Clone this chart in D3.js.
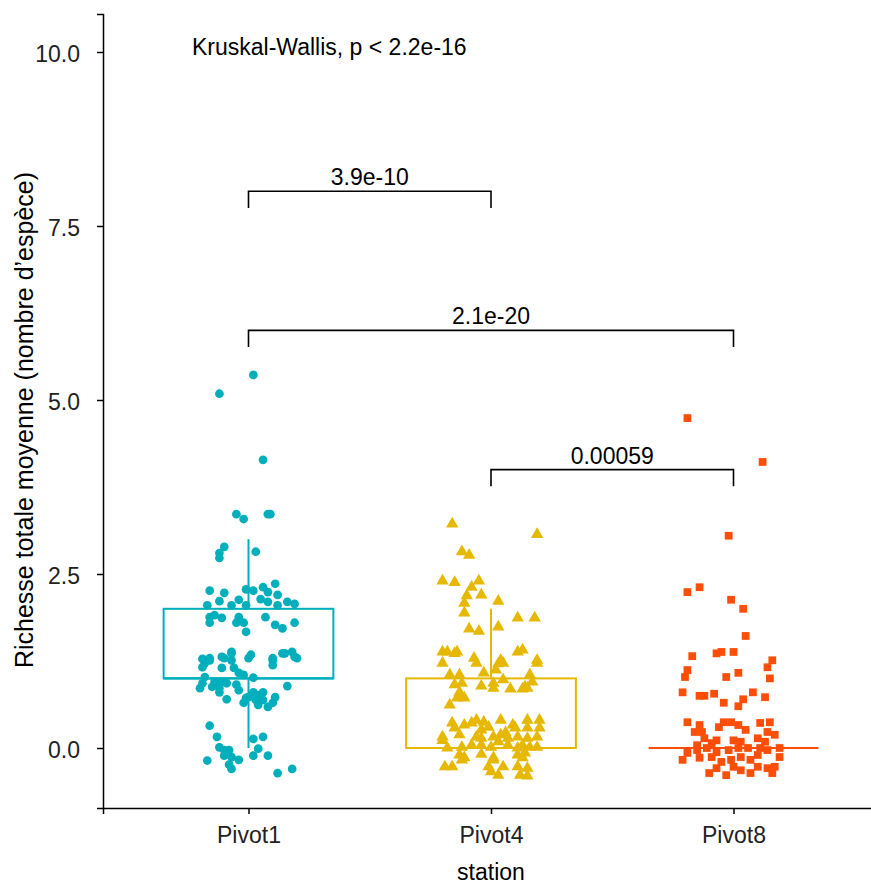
<!DOCTYPE html>
<html><head><meta charset="utf-8">
<script src="https://cdn.jsdelivr.net/npm/d3@7"></script>
<style>body{margin:0;background:#fff}svg{display:block}text{font-family:"Liberation Sans",Arial,sans-serif}</style>
</head><body>
<svg id="c" width="871" height="884"></svg>
<script>
const categories = ["Pivot1","Pivot4","Pivot8"];
const colors = ["#00AFBB","#E7B800","#FC4E07"];
const yTicks = [0,2.5,5,7.5,10];
// box stats: [lowerWhisker, q1, median, q3, upperWhisker]
const boxStats = [[0,1,1,2,3],[0,0,0,1,2],[0,0,0,0,0]];
// jittered points: [x jitter (category units), value]
const pivot1 = [[0.02,5.36],[-0.12,5.09],[0.06,4.14],[-0.05,3.36],[-0.02,3.29],[0.08,3.36],[0.09,3.36],
[-0.10,2.89],[-0.12,2.80],[-0.12,2.73],[0.03,2.82],[-0.16,2.26],[-0.10,2.23],[-0.12,2.11],[-0.17,2.05],
[-0.01,2.28],[0.02,2.26],[-0.04,2.13],[-0.07,2.05],[-0.01,2.05],[0.06,2.31],[0.08,2.24],[0.11,2.36],
[0.12,2.20],[0.05,2.14],[0.08,2.10],[0.12,2.05],[0.16,2.10],[0.19,2.07],[-0.16,1.88],[-0.16,1.80],
[-0.14,1.91],[-0.11,1.87],[-0.04,1.88],[-0.05,1.80],[-0.02,1.80],[-0.01,1.67],[0.07,1.88],[0.11,1.77],
[0.14,1.72],[0.19,1.80],[-0.07,1.38],[0.01,1.34],[-0.11,1.31],[-0.16,1.29],[-0.19,1.28],[0.10,1.29],
[0.14,1.36],[0.18,1.38],[0.19,1.31],[-0.18,1.22],[-0.16,1.26],[-0.19,1.16],[-0.10,1.29],[-0.07,1.26],
[-0.06,1.15],[-0.11,1.15],[0.00,1.29],[-0.07,1.36],[0.10,1.26],[0.10,1.19],[0.15,1.36],[0.20,1.29],
[-0.04,1.08],[-0.02,1.05],[-0.18,1.02],[-0.19,0.93],[-0.20,0.86],[-0.14,0.95],[-0.15,0.88],[-0.12,0.86],
[-0.11,0.95],[-0.12,0.80],[-0.09,0.93],[-0.05,0.91],[-0.04,0.83],[0.02,1.01],[0.16,0.89],[-0.09,0.70],
[-0.02,0.65],[-0.01,0.72],[0.00,0.73],[0.02,0.80],[0.04,0.76],[0.06,0.80],[0.03,0.69],[0.04,0.62],
[0.06,0.69],[0.08,0.59],[0.10,0.65],[0.11,0.73],[-0.16,0.32],[-0.13,0.16],[-0.12,0.01],[-0.10,-0.03],
[-0.08,-0.03],[-0.10,-0.11],[-0.07,-0.13],[-0.08,-0.24],[-0.07,-0.30],[-0.04,-0.17],[-0.17,-0.18],
[0.02,0.13],[0.06,0.16],[0.04,-0.01],[0.02,-0.11],[0.08,-0.11],[0.12,-0.36],[0.18,-0.30]];
const pivot4 = [[-0.16,3.22],[0.19,3.07],[-0.12,2.82],[-0.09,2.77],[-0.20,2.40],[-0.15,2.38],[-0.05,2.40],
[-0.08,2.31],[-0.10,2.19],[-0.04,2.20],[0.03,2.11],[-0.11,2.08],[-0.11,1.94],[0.11,1.87],[0.18,1.87],
[0.03,1.74],[-0.09,1.71],[-0.05,1.68],[-0.20,1.38],[-0.18,1.38],[-0.15,1.36],[-0.14,1.38],[0.11,1.38],
[0.13,1.41],[-0.07,1.29],[0.04,1.26],[0.19,1.26],[-0.20,1.22],[-0.06,1.22],[-0.03,1.08],[0.03,1.21],
[0.02,1.12],[0.05,1.22],[0.19,1.22],[-0.17,1.05],[-0.13,1.05],[-0.15,0.91],[-0.12,0.93],[-0.13,0.80],
[-0.12,0.73],[-0.11,0.72],[-0.14,0.72],[-0.17,0.62],[-0.04,0.89],[0.01,0.86],[0.01,0.93],[0.05,0.98],
[0.08,0.85],[0.13,0.85],[0.14,0.88],[0.16,1.05],[0.17,0.95],[0.15,0.86],
[-0.16,0.36],[-0.15,0.29],[-0.11,0.33],[-0.08,0.36],[-0.06,0.40],[-0.03,0.37],[-0.01,0.30],[-0.04,0.26],
[0.04,0.40],[0.09,0.33],[0.10,0.29],[0.15,0.40],[0.20,0.40],[0.15,0.29],[0.20,0.29],[-0.20,0.16],
[-0.20,0.11],[-0.13,0.19],[-0.06,0.16],[-0.04,0.14],[0.01,0.16],[0.04,0.19],[0.06,0.22],[0.07,0.14],
[0.11,0.16],[0.15,0.14],[0.19,0.16],[-0.18,0.00],[-0.12,0.01],[-0.08,0.04],[-0.04,0.04],[0.00,0.01],
[0.03,0.09],[0.07,0.04],[0.11,0.00],[0.13,0.04],[0.16,0.01],[0.19,0.01],[-0.13,-0.10],[-0.11,-0.14],
[-0.04,-0.09],[0.01,-0.14],[0.11,-0.10],[0.13,-0.14],[0.14,-0.07],[-0.19,-0.27],[-0.16,-0.27],
[-0.12,-0.17],[-0.01,-0.27],[0.01,-0.17],[0.05,-0.27],[0.11,-0.27],[0.15,-0.29],[0.00,-0.34],
[0.03,-0.39],[0.12,-0.39],[0.15,-0.40]];
const pivot8 = [[-0.19,4.74],[0.12,4.11],[-0.02,3.05],[-0.19,2.24],[-0.14,2.31],[-0.01,2.13],[0.04,2.00],
[0.05,1.61],[-0.17,1.32],[-0.07,1.36],[-0.05,1.38],[0.00,1.38],[0.16,1.26],[0.14,1.16],[-0.19,1.12],
[0.15,1.00],[-0.20,1.02],[-0.03,1.02],[0.02,1.08],[-0.21,0.80],[-0.14,0.75],[-0.12,0.75],[-0.08,0.78],
[-0.04,0.65],[0.02,0.60],[0.04,0.70],[0.08,0.80],[0.13,0.73],
[-0.19,0.37],[-0.14,0.33],[-0.16,0.23],[-0.13,0.23],[-0.04,0.37],[-0.01,0.37],[-0.06,0.30],[0.02,0.33],
[0.05,0.26],[0.11,0.36],[0.15,0.37],[0.14,0.23],[0.17,0.19],[-0.12,0.14],[-0.07,0.11],[0.00,0.11],
[0.03,0.09],[0.10,0.14],[0.13,0.09],[-0.15,0.04],[-0.09,0.07],[-0.15,-0.03],[-0.11,0.00],[-0.07,-0.06],
[-0.02,-0.03],[0.02,0.00],[0.06,0.00],[0.11,0.00],[0.14,-0.03],[0.19,0.00],[-0.19,-0.07],[-0.21,-0.17],
[-0.14,-0.14],[-0.09,-0.13],[-0.05,-0.20],[-0.01,-0.17],[0.03,-0.13],[0.07,-0.17],[0.10,-0.10],
[0.19,-0.13],[-0.10,-0.36],[-0.07,-0.29],[-0.03,-0.39],[0.00,-0.27],[0.03,-0.32],[0.07,-0.36],
[0.10,-0.27],[0.14,-0.29],[0.17,-0.27],[0.16,-0.36]];
const pointSets = [pivot1, pivot4, pivot8];
// comparisons: [group a, group b, bracket level, label]
const comparisons = [[0,1,8.0,"3.9e-10"],[0,2,6.0,"2.1e-20"],[1,2,4.0,"0.00059"]];
const globalTest = "Kruskal-Wallis, p < 2.2e-16";
const yTitle = "Richesse totale moyenne (nombre d’espèce)";
const xTitle = "station";

const svg = d3.select("#c");
const mLeft = 103, mRight = 879, mTop = 14, mBottom = 808;
const y = d3.scaleLinear().domain([-0.862, 10.546]).range([mBottom, mTop]);
const x = d3.scaleLinear().domain([0.4, 3.6]).range([mLeft, mRight]);
const bw = 0.35; // half box width (category units)
const FS = 23;

// boxes
const boxes = svg.append("g");
boxStats.forEach((s, i) => {
  const c = i + 1, col = colors[i];
  const g = boxes.append("g").attr("stroke", col).attr("stroke-width", 2).attr("fill", "none");
  g.append("line").attr("x1", x(c)).attr("x2", x(c)).attr("y1", y(s[3])).attr("y2", y(s[4]));
  g.append("line").attr("x1", x(c)).attr("x2", x(c)).attr("y1", y(s[1])).attr("y2", y(s[0]));
  g.append("rect").attr("x", x(c - bw)).attr("width", x(c + bw) - x(c - bw))
    .attr("y", y(s[3])).attr("height", Math.max(0, y(s[1]) - y(s[3])));
  g.append("line").attr("x1", x(c - bw)).attr("x2", x(c + bw)).attr("y1", y(s[2])).attr("y2", y(s[2])).attr("stroke-width", 2.2);
});

// points
const symTypes = [d3.symbolCircle, d3.symbolTriangle, d3.symbolSquare];
const symSizes = [60, 66, 60];
pointSets.forEach((pts, i) => {
  const c = i + 1;
  const sym = d3.symbol().type(symTypes[i]).size(symSizes[i]);
  svg.append("g").selectAll("path").data(pts).join("path")
    .attr("d", sym)
    .attr("transform", d => `translate(${x(c + d[0])},${y(d[1])})`)
    .attr("fill", colors[i]);
});

// axes
const yAxis = d3.axisLeft(y).tickValues(yTicks).tickFormat(d3.format(".1f")).tickSizeOuter(0).tickSize(6).tickPadding(17);
const gy = svg.append("g").attr("transform", `translate(${mLeft},0)`).call(yAxis);
gy.select(".domain").attr("stroke", "#000").attr("stroke-width", 1.5);
gy.selectAll(".tick line").attr("stroke", "#000").attr("stroke-width", 1.5);
gy.selectAll("text").attr("font-size", FS).attr("fill", "#222").attr("dy", "0.42em").attr("font-family", "Liberation Sans, Arial, sans-serif");

const xAxis = d3.axisBottom(x).tickValues([1,2,3]).tickFormat(d => categories[d - 1]).tickSizeOuter(0).tickSize(6).tickPadding(13);
const gx = svg.append("g").attr("transform", `translate(0,${mBottom})`).call(xAxis);
gx.select(".domain").attr("stroke", "#000").attr("stroke-width", 1.5);
gx.selectAll(".tick line").attr("stroke", "#000").attr("stroke-width", 1.5);
gx.selectAll("text").attr("font-size", FS).attr("fill", "#222").attr("font-family", "Liberation Sans, Arial, sans-serif");

// comparisons
const tip = 0.24;
comparisons.forEach(([a, b, lev, lab]) => {
  const xa = x(a + 1), xb = x(b + 1);
  svg.append("path").attr("fill", "none").attr("stroke", "#000").attr("stroke-width", 1.6)
    .attr("d", `M${xa},${y(lev - tip)}V${y(lev)}H${xb}V${y(lev - tip)}`);
  svg.append("text").attr("x", (xa + xb) / 2).attr("y", y(lev) - 6)
    .attr("text-anchor", "middle").attr("font-size", FS).attr("fill", "#000").text(lab);
});

svg.append("text").attr("x", 192).attr("y", 55).attr("font-size", FS).attr("fill", "#000").text(globalTest);

svg.append("text").attr("transform", `translate(33,420) rotate(-90)`).attr("text-anchor", "middle")
  .attr("font-size", 25).attr("fill", "#000").text(yTitle);
svg.append("text").attr("x", x(2)).attr("y", 880).attr("text-anchor", "middle")
  .attr("font-size", FS).attr("fill", "#000").text(xTitle);
</script>
</body></html>
